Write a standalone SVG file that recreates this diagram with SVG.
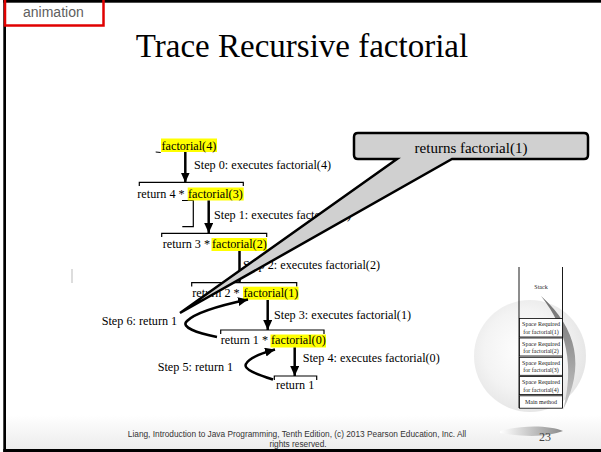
<svg xmlns="http://www.w3.org/2000/svg" width="601" height="452" viewBox="0 0 601 452">
<style>
.lbl{font-family:"Liberation Serif","Times New Roman",serif;font-size:12.2px;fill:#000}
.hl{fill:#ffff00}
.br{fill:none;stroke:#000;stroke-width:1.2}
.arr{fill:none;stroke:#000;stroke-width:2.5;marker-end:url(#ah)}
.stk{font-family:"Liberation Serif","Times New Roman",serif;font-size:6px;fill:#222;text-anchor:middle}
.box{fill:#fff;stroke:#000;stroke-width:0.8}
.ft{font-family:"Liberation Sans",Arial,sans-serif;font-size:8.3px;fill:#333;text-anchor:middle}
</style>
<defs>
<marker id="ah" markerUnits="userSpaceOnUse" markerWidth="11" markerHeight="10" refX="10" refY="4.5" orient="auto">
<path d="M0,0 L10,4.5 L0,9 Z" fill="#000"/>
</marker>
<radialGradient id="globe" cx="0.45" cy="0.45" r="0.6">
<stop offset="0" stop-color="#ffffff"/>
<stop offset="0.6" stop-color="#f2f2f2"/>
<stop offset="1" stop-color="#e0e0e0"/>
</radialGradient>
<linearGradient id="swoosh" x1="0" y1="0" x2="0" y2="1">
<stop offset="0" stop-color="#6e6e6e"/>
<stop offset="1" stop-color="#c8c8c8"/>
</linearGradient>
<linearGradient id="foot" x1="0" y1="0" x2="1" y2="0">
<stop offset="0" stop-color="#ffffff"/>
<stop offset="1" stop-color="#8a8a8a"/>
</linearGradient>
<linearGradient id="bg" x1="0" y1="0" x2="0" y2="1">
<stop offset="0" stop-color="#ffffff"/>
<stop offset="1" stop-color="#ececec"/>
</linearGradient>
</defs>
<rect width="601" height="452" fill="#fff"/>
<rect x="5" y="415" width="596" height="34" fill="url(#bg)"/>

<!-- frame -->
<rect x="3.3" y="0" width="2.7" height="452" fill="#000"/>
<rect x="3.3" y="0" width="597.7" height="2.7" fill="#000"/>
<rect x="3.3" y="449" width="597.7" height="3" fill="#000"/>

<!-- animation tag -->
<g id="animation-tag">
<rect x="5" y="-2" width="98.5" height="27.5" fill="none" stroke="#e00000" stroke-width="2.5"/>
<text x="23" y="17" font-family="Liberation Sans, Arial, sans-serif" font-size="14" fill="#606060">animation</text>
</g>

<!-- title -->
<g id="title">
<text x="302" y="57" text-anchor="middle" font-family="Liberation Serif, Times New Roman, serif" font-size="33" fill="#000">Trace Recursive factorial</text>
</g>

<!-- decorative globe -->
<g id="decor">
<circle cx="530" cy="356" r="56" fill="url(#globe)" opacity="0.9"/>
<path d="M541,296 Q596,345 563,410 Q580,345 541,296 Z" fill="url(#swoosh)"/>
<path d="M500,431 C520,425 550,425 563,431 C550,436 530,438 500,433 Z" fill="url(#foot)"/>
<line x1="72" y1="269" x2="72" y2="283" stroke="#bbb" stroke-width="1"/>
</g>

<!-- stack -->
<g id="stack">
<line x1="519" y1="267" x2="519" y2="408" stroke="#000" stroke-width="0.9"/>
<line x1="562.5" y1="267" x2="562.5" y2="408" stroke="#000" stroke-width="0.9"/>
<text class="stk" x="541" y="289">Stack</text>
<rect class="box" x="519.5" y="318.5" width="43" height="18.5"/>
<text class="stk" x="541" y="326">Space  Required</text>
<text class="stk" x="541" y="333.5">for factorial(1)</text>
<rect class="box" x="519.5" y="338" width="43" height="18"/>
<text class="stk" x="541" y="345.5">Space  Required</text>
<text class="stk" x="541" y="353">for factorial(2)</text>
<rect class="box" x="519.5" y="357.3" width="43" height="18"/>
<text class="stk" x="541" y="364.8">Space  Required</text>
<text class="stk" x="541" y="372.3">for factorial(3)</text>
<rect class="box" x="519.5" y="376.6" width="43" height="18"/>
<text class="stk" x="541" y="384.1">Space  Required</text>
<text class="stk" x="541" y="391.6">for factorial(4)</text>
<rect class="box" x="519.5" y="395.8" width="43" height="12.4"/>
<text class="stk" x="541" y="404">Main method</text>
</g>

<!-- call nodes -->
<g id="call-4">
<line x1="155.7" y1="152" x2="160.7" y2="152.5" stroke="#000" stroke-width="1"/>
<rect class="hl" x="161" y="138.5" width="56" height="13.5"/>
<text class="lbl" x="161.5" y="149.5">factorial(4)</text>
</g>
<g id="call-3">
<path class="br" d="M139.3,186 V182.3 H243.3 V186"/>
<path class="br" d="M182,200.5 H193.3 V226.7 H182.3"/>
<text class="lbl" x="137.3" y="197.7">return 4 * </text>
<rect class="hl" x="187.7" y="187.5" width="56" height="13"/>
<text class="lbl" x="188" y="197.7">factorial(3)</text>
</g>
<g id="call-2">
<path class="br" d="M161.7,237 V233.3 H266.7 V237"/>
<text class="lbl" x="162.7" y="248.3">return 3 * </text>
<rect class="hl" x="211.5" y="238" width="55.5" height="13"/>
<text class="lbl" x="212" y="248.3">factorial(2)</text>
</g>
<g id="call-1">
<path class="br" d="M191.7,286.5 V282.7 H296.7 V286.5"/>
<text class="lbl" x="192.3" y="296.7">return 2 * </text>
<rect class="hl" x="243" y="286.7" width="55.5" height="13"/>
<text class="lbl" x="243.5" y="296.7">factorial(1)</text>
</g>
<g id="call-0">
<path class="br" d="M220.7,334 V330 H324 V334"/>
<text class="lbl" x="220.7" y="344.3">return 1 * </text>
<rect class="hl" x="270.5" y="334.5" width="55.5" height="13"/>
<text class="lbl" x="271" y="344.3">factorial(0)</text>
</g>
<g id="base">
<path class="br" d="M274.3,380 V376 H316.7 V380"/>
<text class="lbl" x="276" y="389.3">return 1</text>
</g>

<!-- step labels -->
<g id="steps">
<text class="lbl" x="194" y="169.3">Step 0: executes factorial(4)</text>
<text class="lbl" x="214" y="219">Step 1: executes factorial(3)</text>
<text class="lbl" x="243" y="269.3">Step 2: executes factorial(2)</text>
<text class="lbl" x="274" y="319.3">Step 3: executes factorial(1)</text>
<text class="lbl" x="302.7" y="361.7">Step 4: executes factorial(0)</text>
<text class="lbl" x="157.7" y="371">Step 5: return 1</text>
<text class="lbl" x="101.7" y="325">Step 6: return 1</text>
</g>

<!-- connectors -->
<g id="connectors">
<path class="arr" d="M185.3,152 V182.5"/>
<path class="arr" d="M208.7,200.5 V233"/>
<path class="arr" d="M239.5,251 V282.5"/>
<path class="arr" d="M267.7,300 V330"/>
<path class="arr" d="M294.7,347.5 V376"/>
<path class="arr" d="M217,337 C197,333 180,327 187,321 C195,313 222,305 248,299.5"/>
<path class="arr" d="M273,379.5 C256,374 243,369 246,364 C249,358 262,353 275,349.5"/>
</g>

<!-- callout -->
<g id="callout">
<path d="M358,133 H584 Q588,133 588,137 V155 Q588,159 584,159 H452 L180,313 L397,159 H358 Q354,159 354,155 V137 Q354,133 358,133 Z" fill="#d0d0d0" stroke="#000" stroke-width="2.5" stroke-linejoin="miter"/>
<text x="471" y="153" text-anchor="middle" font-family="Liberation Serif, Times New Roman, serif" font-size="15" fill="#000">returns factorial(1)</text>
</g>

<!-- footer -->
<g id="footer">
<text class="ft" x="297" y="436.5">Liang, Introduction to Java Programming, Tenth Edition, (c) 2013 Pearson Education, Inc. All</text>
<text class="ft" x="298" y="446.5">rights reserved.</text>
<text x="545" y="441" text-anchor="middle" font-family="Liberation Serif, Times New Roman, serif" font-size="12" fill="#444">23</text>
</g>
</svg>
